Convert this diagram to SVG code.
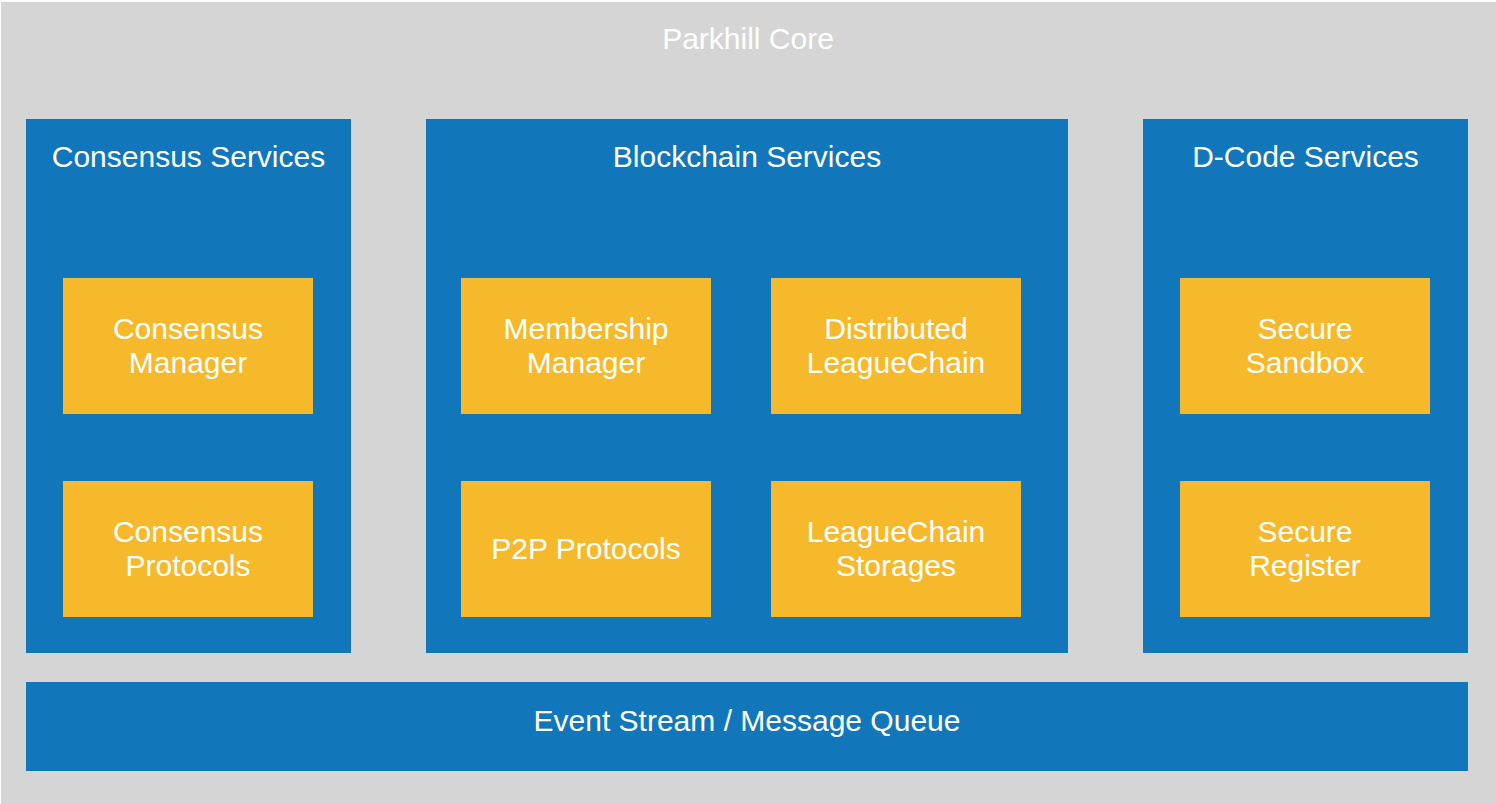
<svg xmlns="http://www.w3.org/2000/svg" width="1496" height="804" viewBox="0 0 1496 804">
<style>
.bg{fill:#d5d5d5}
.blue{fill:#1177ba}
.yel{fill:#f7b92c}
text{font-family:"Liberation Sans",Arial,Helvetica,sans-serif;font-size:30px;fill:#ffffff;text-anchor:middle}
</style>
<rect width="1496" height="804" fill="#ffffff"/>
<g id="parkhill-core">
<rect class="bg" x="1" y="2" width="1495" height="802"/>
<text x="748" y="49">Parkhill Core</text>
</g>
<g id="consensus-services">
<rect class="blue" x="26" y="119" width="325" height="534"/>
<text x="188.5" y="167">Consensus Services</text>
</g>
<g id="blockchain-services">
<rect class="blue" x="426" y="119" width="642" height="534"/>
<text x="747" y="167">Blockchain Services</text>
</g>
<g id="dcode-services">
<rect class="blue" x="1143" y="119" width="325" height="534"/>
<text x="1305.5" y="167">D-Code Services</text>
</g>
<g id="consensus-manager">
<rect class="yel" x="63" y="278" width="250" height="136"/>
<text x="188" y="339">Consensus</text>
<text x="188" y="373">Manager</text>
</g>
<g id="consensus-protocols">
<rect class="yel" x="63" y="481" width="250" height="136"/>
<text x="188" y="542">Consensus</text>
<text x="188" y="576">Protocols</text>
</g>
<g id="membership-manager">
<rect class="yel" x="461" y="278" width="250" height="136"/>
<text x="586" y="339">Membership</text>
<text x="586" y="373">Manager</text>
</g>
<g id="distributed-leaguechain">
<rect class="yel" x="771" y="278" width="250" height="136"/>
<text x="896" y="339">Distributed</text>
<text x="896" y="373">LeagueChain</text>
</g>
<g id="p2p-protocols">
<rect class="yel" x="461" y="481" width="250" height="136"/>
<text x="586" y="559">P2P Protocols</text>
</g>
<g id="leaguechain-storages">
<rect class="yel" x="771" y="481" width="250" height="136"/>
<text x="896" y="542">LeagueChain</text>
<text x="896" y="576">Storages</text>
</g>
<g id="secure-sandbox">
<rect class="yel" x="1180" y="278" width="250" height="136"/>
<text x="1305" y="339">Secure</text>
<text x="1305" y="373">Sandbox</text>
</g>
<g id="secure-register">
<rect class="yel" x="1180" y="481" width="250" height="136"/>
<text x="1305" y="542">Secure</text>
<text x="1305" y="576">Register</text>
</g>
<g id="event-stream">
<rect class="blue" x="26" y="682" width="1442" height="89"/>
<text x="747" y="731">Event Stream / Message Queue</text>
</g>
<g id="connectors"></g>
</svg>
